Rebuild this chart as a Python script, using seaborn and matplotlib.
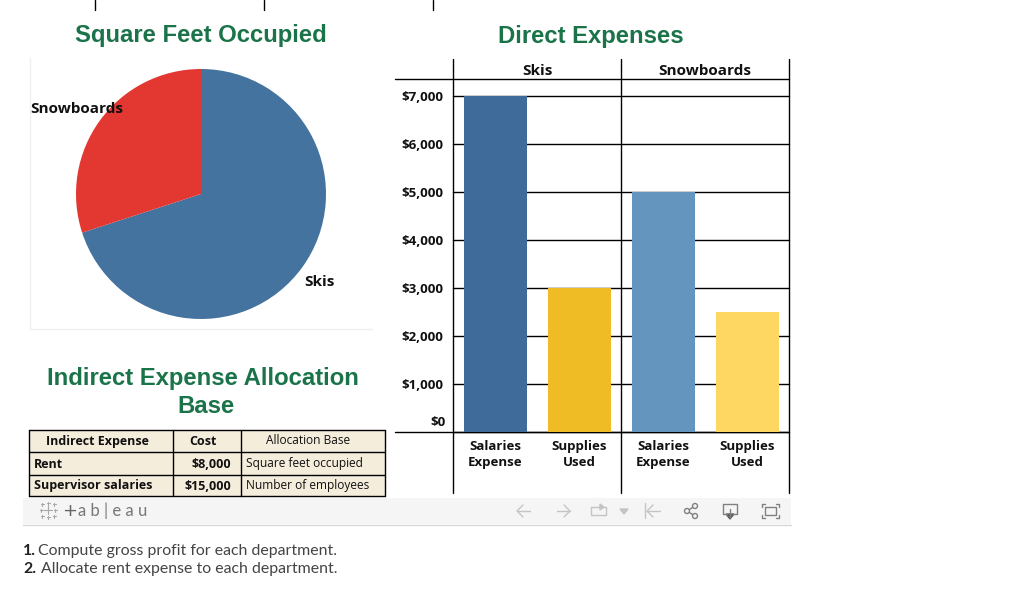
import pandas as pd
import seaborn as sns
import matplotlib
matplotlib.use("Agg")
import matplotlib.pyplot as plt
from matplotlib.patches import Rectangle, Polygon, Circle

# data
departments = ["Skis", "Skis", "Snowboards", "Snowboards"]
items = ["Salaries\nExpense", "Supplies\nUsed", "Salaries\nExpense", "Supplies\nUsed"]
expenses = [7000, 3000, 5000, 2500]
bar_colors = ["#3f6b9b", "#f0bc26", "#6495bf", "#fed763"]
y_ticks = [0, 1000, 2000, 3000, 4000, 5000, 6000, 7000]

pie_labels = ["Skis", "Snowboards"]
pie_values = [70, 30]
pie_colors = ["#44739f", "#e33731"]

table_rows = [
    ["Indirect Expense", "Cost", "Allocation Base"],
    ["Rent", "$8,000", "Square feet occupied"],
    ["Supervisor salaries", "$15,000", "Number of employees"],
]
notes = [("1.", "Compute gross profit for each department."),
         ("2.", "Allocate rent expense to each department.")]

W, H = 1009, 589
GREEN = "#1a7349"
TITLE_SIZE = 17.2

sns.set_theme(style="white")
plt.rcParams["font.family"] = ["Open Sans", "DejaVu Sans"]

fig = plt.figure(figsize=(W / 100, H / 100), dpi=100, facecolor="white")


def px_axes(x0, y0, x1, y1, **kw):
    # axes placed with picture pixels, y counted from the top
    return fig.add_axes([x0 / W, 1 - y1 / H, (x1 - x0) / W, (y1 - y0) / H], **kw)


# overlay for rules, boxes and text, in pixels
bg = px_axes(0, 0, W, H)
bg.set_xlim(0, W)
bg.set_ylim(H, 0)
bg.axis("off")

for x in [95, 264, 433]:
    bg.plot([x, x], [0, 10], color="black", lw=1)

for txt, x, y in [("Square Feet Occupied", 201, 35.5), ("Direct Expenses", 591, 36.5),
                  ("Indirect Expense Allocation", 203, 378.5), ("Base", 206, 406.5)]:
    bg.text(x, y, txt, color=GREEN, fontsize=TITLE_SIZE, fontweight="bold",
            family="Liberation Sans", ha="center", va="center")

# pie frame
bg.plot([30, 30], [58, 329], color="#f0f0f0", lw=1)
bg.plot([30, 372], [329, 329], color="#f0f0f0", lw=1)

# bar panel rules
for y in [79, 432]:
    bg.plot([395, 789], [y, y], color="black", lw=1, zorder=5)
for x in [453, 621, 789]:
    bg.plot([x, x], [59, 493], color="black", lw=1, zorder=5)
bg.text(537, 71, "Skis", fontsize=11, fontweight="bold", ha="center", va="center", color="#111111")
bg.text(705, 71, "Snowboards", fontsize=11, fontweight="bold", ha="center", va="center", color="#111111")

# table
col_x = [29, 173, 241, 385]
row_y = [430, 452, 475, 496]
bg.add_patch(Rectangle((29, 430), 356, 66, facecolor="#f5eddc", edgecolor="none"))
for x in col_x:
    bg.plot([x, x], [row_y[0], row_y[-1]], color="black", lw=1)
for y in row_y:
    bg.plot([col_x[0], col_x[-1]], [y, y], color="black", lw=1)
for r, row in enumerate(table_rows):
    yc = (row_y[r] + row_y[r + 1]) / 2
    bg.text(97 if r == 0 else 34, yc + 0.5, row[0], fontsize=9, fontweight="bold",
            ha="center" if r == 0 else "left", va="center", color="#111111")
    bg.text(203 if r == 0 else 231, yc + 0.5, row[1], fontsize=9, fontweight="bold",
            ha="center" if r == 0 else "right", va="center", color="#111111")
    bg.text(308 if r == 0 else 246, yc, row[2], fontsize=8.6,
            ha="center" if r == 0 else "left", va="center", color="#111111")

# toolbar strip
bg.add_patch(Rectangle((23, 498), 768, 26, facecolor="#f5f5f5", edgecolor="none"))
bg.plot([23, 791], [524.5, 524.5], color="#d8d8d8", lw=1)
for x, y, s in [(48, 510, 8), (41, 510, 3), (55, 510, 3), (48, 503, 3), (48, 517, 3),
                (42, 504, 3), (54, 504, 3), (42, 516, 3), (54, 516, 3)]:
    bg.plot([x - s / 2, x + s / 2], [y, y], color="#a8a8a8", lw=0.8)
    bg.plot([x, x], [y - s / 2, y + s / 2], color="#a8a8a8", lw=0.8)
bg.text(62, 511, "+", fontsize=13, color="#666666", ha="left", va="center", family="DejaVu Sans")
bg.text(78, 511, "a b | e a u", fontsize=12, color="#777777", ha="left", va="center", family="Lato")

grey = "#c4c4c4"
dark = "#808080"
bg.plot([517, 530], [511, 511], color=grey, lw=1)
bg.plot([523, 517, 523], [505, 511, 517], color=grey, lw=1)
bg.plot([557, 570], [511, 511], color=grey, lw=1)
bg.plot([564, 570, 564], [505, 511, 517], color=grey, lw=1)
bg.plot([596, 591, 591, 606, 606], [507, 507, 515, 515, 507], color=grey, lw=1)
bg.plot([596, 606], [507, 507], color=grey, lw=1)
bg.add_patch(Polygon([[600, 504], [600, 510], [604, 507]], color=grey))
bg.add_patch(Polygon([[620, 509], [628, 509], [624, 514]], color=grey))
bg.plot([645, 645], [503, 518], color=grey, lw=1)
bg.plot([647, 660], [511, 511], color=grey, lw=1)
bg.plot([653, 647, 653], [505, 511, 517], color=grey, lw=1)
bg.plot([695, 687, 695], [506, 511, 516], color=dark, lw=1)
for cx, cy in [(695, 506), (687, 511), (695, 516)]:
    bg.add_patch(Circle((cx, cy), 2.5, facecolor="#f5f5f5", edgecolor=dark, lw=1, zorder=4))
bg.plot([727, 723, 723, 737, 737, 733], [514, 514, 504, 504, 514, 514], color=dark, lw=1)
bg.plot([730, 730], [509, 517], color=dark, lw=1)
bg.add_patch(Polygon([[726, 514], [734, 514], [730, 519]], color="#606060"))
bg.add_patch(Rectangle((765, 507), 11, 8, facecolor="none", edgecolor=dark, lw=1))
for x, y, dx, dy in [(762, 504, 1, 1), (779, 504, -1, 1), (762, 518, 1, -1), (779, 518, -1, -1)]:
    bg.plot([x + 3 * dx, x, x], [y, y, y + 3 * dy], color=dark, lw=1)

# numbered notes
for (num, txt), y in zip(notes, [551, 569]):
    bg.text(23, y, num, fontsize=11.4, fontweight="bold", family="Lato", color="#222222", ha="left", va="center")
    bg.text(38 if num == "1." else 41, y, txt, fontsize=11.4, family="Lato", color="#444444", ha="left", va="center")

# pie
pie_ax = px_axes(76, 69, 326, 319)
pie_ax.pie(pie_values, colors=pie_colors, startangle=90, counterclock=False, radius=1,
           wedgeprops={"linewidth": 0})
pie_ax.set_xlim(-1, 1)
pie_ax.set_ylim(-1, 1)
bg2 = px_axes(0, 0, W, H)
bg2.set_xlim(0, W)
bg2.set_ylim(H, 0)
bg2.axis("off")
bg2.text(77, 109, pie_labels[1], fontsize=11, fontweight="bold", ha="center", va="center", color="#111111")
bg2.text(319, 282, pie_labels[0], fontsize=11, fontweight="bold", ha="center", va="center", color="#111111")

# bars
df = pd.DataFrame({"dept": departments, "item": items, "expense": expenses})
df["key"] = df["dept"] + " " + df["item"]
ax = px_axes(453, 96, 789, 432)
ax.patch.set_alpha(0)
sns.barplot(data=df, x="key", y="expense", hue="key", palette=bar_colors, width=0.75,
            dodge=False, legend=False, saturation=1, linewidth=0, ax=ax, zorder=3)
ax.set_xlim(-0.5, 3.5)
ax.set_ylim(0, 7000)
ax.set_xlabel("")
ax.set_ylabel("")
ax.set_xticks(range(len(items)))
ax.set_xticklabels(items, fontsize=9.5, fontweight="bold", color="#111111", linespacing=1.3)
ax.set_yticks(y_ticks)
# the zero label sits above its rule in the original, so it is placed by hand below
ax.set_yticklabels(["" if v == 0 else f"${v:,}" for v in y_ticks], fontsize=9.6,
                   fontweight="bold", color="#111111")
bg2.text(446, 422.5, f"${y_ticks[0]}", fontsize=9.6, fontweight="bold", color="#111111",
         ha="right", va="center")
ax.tick_params(axis="both", length=0)
ax.tick_params(axis="y", pad=7)
ax.tick_params(axis="x", pad=6)
ax.grid(axis="y", color="black", lw=1, zorder=0)
ax.set_axisbelow(True)
for g in ax.get_ygridlines():
    g.set_clip_on(False)
sns.despine(ax=ax, left=True, bottom=True)

fig.savefig("out.png", dpi=100)
